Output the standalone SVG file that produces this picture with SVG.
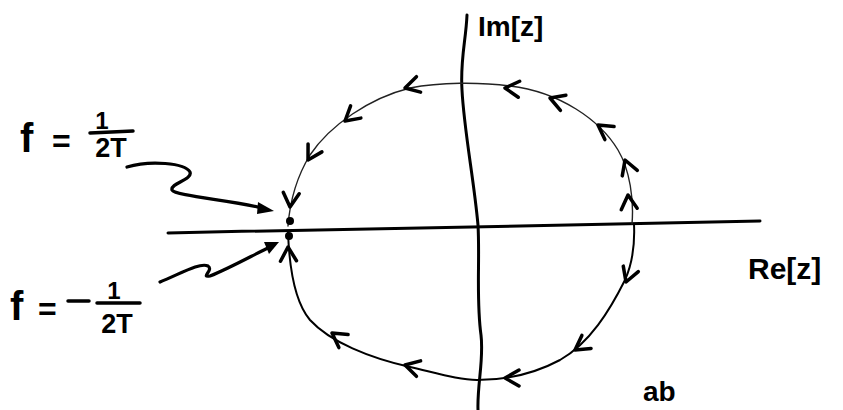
<svg xmlns="http://www.w3.org/2000/svg" xmlns:xlink="http://www.w3.org/1999/xlink" width="843" height="410" viewBox="0 0 843 410">
<style>
.axis{fill:none;stroke:#000;stroke-width:3;stroke-linecap:round}
.curve{fill:none;stroke:#222;stroke-width:1.4;stroke-linecap:round}
.curve2{fill:none;stroke:#000;stroke-width:2;stroke-linecap:round}
.chev{fill:none;stroke:#000;stroke-width:3.5;stroke-linecap:round;stroke-linejoin:round}
.pointer{fill:none;stroke:#000;stroke-width:3.2;stroke-linecap:round}
.lbl{font-family:"Liberation Sans",Arial,sans-serif;fill:#000;font-weight:bold}
.bar{stroke:#000;stroke-width:3.5;stroke-linecap:round}
</style>
<defs>
<path id="chev" class="chev" d="M14,-8 L0,0 L14,8"/>
</defs>
<rect width="843" height="410" fill="#fff"/>

<g id="axes">
<path class="axis" d="M467,15 C466,40 460,60 462,90 C464,130 474,180 478,225 C480,260 476,300 481,335 C484,360 477,385 478,410"/>
<path class="axis" d="M168,233 C300,230 450,227 520,226 C620,224 700,222 760,221"/>
</g>

<g id="contour">
<path class="curve" d="M632,224 C634,200 630,170 618,150 C600,120 560,92 510,86 C480,82 440,82 410,88 C370,98 330,125 310,155 C296,178 290,200 288,226"/>
<path class="curve2" d="M288,232 C289,260 293,300 310,320 C330,342 370,358 410,367 C440,374 460,380 477,380 C500,380 530,376 560,360 C590,343 610,310 625,280 C633,262 635,245 634,224"/>
</g>

<g id="arrowheads">
<use xlink:href="#chev" transform="translate(628,195) rotate(85)"/>
<use xlink:href="#chev" transform="translate(625,160) rotate(70)"/>
<use xlink:href="#chev" transform="translate(598,125) rotate(35)"/>
<use xlink:href="#chev" transform="translate(550,98) rotate(20)"/>
<use xlink:href="#chev" transform="translate(505,88) rotate(5)"/>
<use xlink:href="#chev" transform="translate(405,88) rotate(-15)"/>
<use xlink:href="#chev" transform="translate(345,121) rotate(-40)"/>
<use xlink:href="#chev" transform="translate(308,160) rotate(-60)"/>
<use xlink:href="#chev" transform="translate(290,207) rotate(-85)"/>
<use xlink:href="#chev" transform="translate(288,247) rotate(88)"/>
<use xlink:href="#chev" transform="translate(332,333) rotate(35)"/>
<use xlink:href="#chev" transform="translate(405,365) rotate(15)"/>
<use xlink:href="#chev" transform="translate(505,378) rotate(0)"/>
<use xlink:href="#chev" transform="translate(575,350) rotate(-35)"/>
<use xlink:href="#chev" transform="translate(626,282) rotate(-70)"/>
</g>

<g id="points">
<circle cx="290" cy="221" r="4"/>
<circle cx="289" cy="236" r="4"/>
</g>

<g id="pointer-upper">
<path class="pointer" d="M127,167 C150,160 185,163 190,172 C193,180 170,183 172,190 C175,196 230,200 262,208"/>
<path d="M258,202 L274,211 L257,214 Z" fill="#000"/>
</g>
<g id="pointer-lower">
<path class="pointer" d="M160,282 C180,274 200,262 208,266 C214,270 200,278 210,276 C230,268 255,254 270,247"/>
<path d="M264,242 L279,242 L269,254 Z" fill="#000"/>
</g>

<g id="label-pos">
<text class="lbl" x="20" y="152" font-size="40">f</text>
<text class="lbl" x="52" y="152" font-size="32">=</text>
<text class="lbl" x="102" y="129" font-size="24" text-anchor="middle">1</text>
<line class="bar" x1="90" y1="133" x2="133" y2="131"/>
<text class="lbl" x="111" y="157" font-size="27" text-anchor="middle">2T</text>
</g>

<g id="label-neg">
<text class="lbl" x="10" y="320" font-size="40">f</text>
<text class="lbl" x="38" y="320" font-size="32">=</text>
<line class="bar" x1="68" y1="301" x2="89" y2="301"/>
<text class="lbl" x="114" y="299" font-size="24" text-anchor="middle">1</text>
<line class="bar" x1="97" y1="303" x2="140" y2="303"/>
<text class="lbl" x="117" y="333" font-size="27" text-anchor="middle">2T</text>
</g>

<g id="label-im">
<text class="lbl" x="478" y="36" font-size="28">Im[z]</text>
</g>
<g id="label-re">
<text class="lbl" x="748" y="279" font-size="30">Re[z]</text>
</g>
<g id="label-ab">
<text class="lbl" x="643" y="401" font-size="28">ab</text>
</g>
</svg>
